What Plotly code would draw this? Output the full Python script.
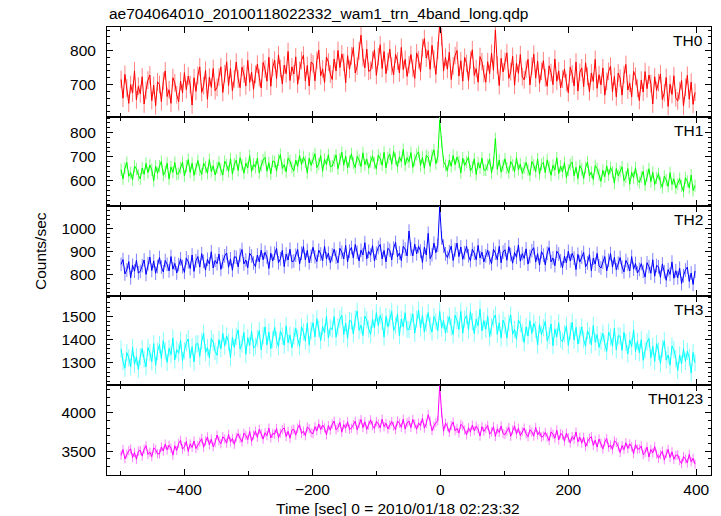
import plotly.graph_objects as go

# ---------------- data ----------------
TIME = list(range(-499, 399, 3))   # bin centres [sec], 300 bins

TH0 = [
    715, 660, 730, 690, 645, 700, 675, 740, 655, 695,
    673, 723, 643, 683, 713, 728, 653, 698, 638, 708,
    700, 650, 710, 740, 665, 685, 645, 720, 705, 670,
    650, 710, 675, 735, 685, 725, 700, 640, 720, 680,
    727, 752, 677, 697, 742, 657, 722, 692, 747, 682,
    692, 722, 752, 677, 732, 767, 697, 747, 682, 717,
    766, 716, 691, 751, 731, 696, 771, 706, 736, 686,
    730, 760, 720, 690, 765, 745, 710, 780, 695, 750,
    772, 717, 787, 747, 702, 757, 732, 797, 712, 752,
    731, 781, 701, 741, 771, 786, 711, 756, 696, 766,
    761, 711, 771, 801, 726, 746, 706, 781, 766, 731,
    715, 775, 740, 800, 750, 790, 765, 705, 785, 745,
    784, 809, 734, 754, 799, 845, 779, 749, 804, 739,
    742, 772, 802, 727, 782, 817, 747, 797, 732, 767,
    804, 754, 729, 789, 769, 734, 809, 744, 774, 724,
    758, 788, 748, 718, 793, 773, 738, 808, 835, 778,
    800, 745, 815, 775, 730, 800, 880, 840, 740, 780,
    745, 795, 715, 755, 785, 800, 725, 770, 710, 780,
    762, 712, 772, 802, 727, 747, 707, 782, 767, 732,
    707, 767, 732, 792, 742, 860, 757, 697, 777, 737,
    768, 793, 718, 738, 783, 698, 763, 733, 788, 723,
    714, 744, 774, 699, 754, 789, 719, 769, 704, 739,
    770, 720, 695, 755, 735, 700, 775, 710, 740, 690,
    716, 746, 706, 676, 751, 731, 696, 766, 681, 736,
    749, 694, 764, 724, 679, 734, 709, 774, 689, 729,
    699, 749, 669, 709, 739, 754, 679, 724, 664, 734,
    719, 669, 729, 759, 684, 704, 664, 739, 724, 689,
    653, 713, 678, 738, 688, 728, 703, 643, 723, 683,
    706, 731, 656, 676, 721, 636, 701, 671, 726, 661,
    652, 682, 712, 637, 692, 727, 657, 707, 642, 677,
]

TH1 = [
    646, 608, 653, 676, 619, 634, 604, 661, 649, 623,
    608, 653, 627, 672, 634, 665, 646, 600, 661, 631,
    661, 680, 623, 638, 673, 608, 657, 635, 676, 627,
    631, 654, 677, 620, 661, 688, 635, 673, 623, 650,
    684, 646, 627, 673, 658, 631, 688, 639, 662, 624,
    654, 677, 647, 624, 681, 666, 639, 692, 628, 669,
    685, 643, 696, 666, 632, 673, 654, 704, 639, 670,
    656, 694, 633, 663, 686, 697, 640, 675, 629, 682,
    679, 641, 686, 709, 652, 667, 637, 694, 682, 656,
    641, 686, 660, 705, 667, 698, 679, 633, 694, 664,
    693, 712, 655, 670, 705, 640, 689, 667, 708, 659,
    661, 684, 707, 650, 691, 718, 665, 703, 653, 680,
    712, 674, 655, 701, 686, 659, 716, 667, 690, 652,
    680, 703, 673, 650, 707, 692, 665, 718, 654, 695,
    711, 669, 722, 692, 658, 699, 680, 730, 665, 696,
    679, 717, 656, 686, 709, 720, 663, 698, 652, 705,
    698, 660, 705, 728, 671, 700, 850, 760, 680, 665,
    641, 686, 660, 705, 667, 698, 679, 633, 694, 664,
    679, 698, 641, 656, 691, 626, 675, 653, 694, 645,
    644, 667, 690, 633, 674, 775, 648, 686, 636, 663,
    691, 653, 634, 680, 665, 638, 695, 646, 669, 631,
    653, 676, 646, 623, 680, 665, 638, 691, 627, 668,
    676, 634, 687, 657, 623, 664, 645, 695, 630, 661,
    637, 675, 614, 644, 667, 678, 621, 656, 610, 663,
    648, 610, 655, 678, 621, 636, 606, 663, 651, 625,
    598, 643, 617, 662, 624, 655, 636, 590, 651, 621,
    639, 658, 601, 616, 651, 586, 635, 613, 654, 605,
    593, 616, 639, 582, 623, 650, 597, 635, 585, 612,
    630, 592, 573, 619, 604, 577, 634, 585, 608, 570,
    586, 609, 579, 556, 613, 598, 571, 624, 560, 580,
]

TH2 = [
    844, 865, 802, 819, 856, 785, 840, 814, 861, 806,
    813, 838, 863, 800, 847, 876, 817, 859, 805, 834,
    874, 832, 811, 861, 844, 815, 878, 823, 848, 806,
    843, 868, 834, 809, 872, 855, 826, 885, 813, 860,
    878, 832, 891, 857, 819, 866, 845, 899, 828, 861,
    847, 889, 822, 856, 881, 894, 831, 868, 818, 877,
    875, 833, 884, 909, 846, 863, 829, 892, 880, 850,
    834, 885, 855, 906, 864, 897, 876, 826, 893, 859,
    893, 914, 851, 868, 905, 834, 889, 863, 910, 855,
    859, 884, 909, 846, 893, 922, 863, 905, 851, 880,
    919, 877, 856, 906, 889, 860, 923, 868, 893, 851,
    885, 910, 876, 851, 914, 897, 868, 927, 855, 902,
    918, 872, 931, 897, 859, 906, 885, 939, 868, 901,
    884, 926, 859, 893, 918, 931, 868, 905, 855, 914,
    906, 864, 915, 940, 877, 894, 860, 923, 911, 881,
    990, 911, 881, 932, 890, 923, 902, 852, 919, 885,
    980, 869, 886, 937, 895, 928, 1095, 960, 924, 890,
    874, 899, 924, 861, 908, 937, 878, 920, 866, 895,
    923, 881, 860, 910, 893, 864, 927, 872, 897, 855,
    881, 906, 872, 847, 910, 893, 864, 923, 851, 898,
    908, 862, 921, 887, 849, 896, 875, 929, 858, 891,
    870, 912, 845, 879, 904, 917, 854, 891, 841, 900,
    884, 842, 893, 918, 855, 872, 838, 901, 889, 859,
    829, 880, 850, 901, 859, 892, 871, 821, 888, 854,
    875, 896, 833, 850, 887, 816, 871, 845, 892, 837,
    828, 853, 878, 815, 862, 891, 832, 874, 820, 849,
    874, 832, 811, 861, 844, 815, 878, 823, 848, 806,
    822, 847, 813, 788, 851, 834, 805, 864, 792, 839,
    833, 787, 846, 812, 774, 821, 800, 854, 783, 816,
    785, 827, 760, 794, 819, 832, 769, 806, 756, 815,
]

TH3 = [
    1360, 1305, 1277, 1344, 1322, 1283, 1366, 1294, 1327, 1272,
    1327, 1361, 1316, 1283, 1366, 1344, 1305, 1383, 1289, 1350,
    1379, 1318, 1396, 1352, 1302, 1363, 1335, 1407, 1313, 1357,
    1342, 1398, 1309, 1353, 1387, 1403, 1320, 1370, 1304, 1381,
    1383, 1328, 1394, 1427, 1344, 1366, 1322, 1405, 1389, 1350,
    1333, 1400, 1361, 1427, 1372, 1416, 1389, 1322, 1411, 1366,
    1414, 1442, 1359, 1381, 1431, 1337, 1409, 1375, 1436, 1364,
    1372, 1406, 1439, 1356, 1417, 1455, 1378, 1433, 1361, 1400,
    1453, 1398, 1370, 1437, 1415, 1376, 1459, 1387, 1420, 1365,
    1416, 1450, 1405, 1372, 1455, 1433, 1394, 1472, 1378, 1439,
    1473, 1412, 1490, 1446, 1396, 1457, 1429, 1501, 1407, 1451,
    1444, 1500, 1411, 1455, 1489, 1505, 1422, 1472, 1406, 1483,
    1479, 1424, 1490, 1523, 1440, 1462, 1418, 1501, 1485, 1446,
    1422, 1489, 1450, 1516, 1461, 1505, 1478, 1411, 1500, 1455,
    1494, 1522, 1439, 1461, 1511, 1417, 1489, 1455, 1516, 1444,
    1444, 1478, 1511, 1428, 1489, 1527, 1450, 1505, 1433, 1472,
    1516, 1461, 1433, 1500, 1478, 1439, 1522, 1450, 1483, 1428,
    1466, 1500, 1455, 1422, 1505, 1483, 1444, 1522, 1428, 1489,
    1504, 1443, 1521, 1477, 1427, 1488, 1460, 1532, 1438, 1482,
    1445, 1501, 1412, 1456, 1490, 1506, 1423, 1473, 1407, 1484,
    1462, 1407, 1473, 1506, 1423, 1445, 1401, 1484, 1468, 1429,
    1388, 1455, 1416, 1482, 1427, 1471, 1444, 1377, 1466, 1421,
    1451, 1479, 1396, 1418, 1468, 1374, 1446, 1412, 1473, 1401,
    1392, 1426, 1459, 1376, 1437, 1475, 1398, 1453, 1381, 1420,
    1455, 1400, 1372, 1439, 1417, 1378, 1461, 1389, 1422, 1367,
    1394, 1428, 1383, 1350, 1433, 1411, 1372, 1450, 1356, 1417,
    1415, 1354, 1432, 1388, 1338, 1399, 1371, 1443, 1349, 1393,
    1344, 1400, 1311, 1355, 1389, 1405, 1322, 1372, 1306, 1383,
    1351, 1296, 1362, 1395, 1312, 1334, 1290, 1373, 1357, 1318,
    1267, 1334, 1295, 1361, 1306, 1350, 1323, 1256, 1345, 1300,
]

TH0123 = [
    3446, 3522, 3401, 3461, 3507, 3529, 3416, 3484, 3394, 3499,
    3511, 3436, 3526, 3571, 3458, 3488, 3428, 3541, 3519, 3466,
    3464, 3555, 3502, 3592, 3517, 3577, 3540, 3449, 3570, 3509,
    3602, 3640, 3527, 3557, 3625, 3497, 3595, 3549, 3632, 3534,
    3573, 3619, 3664, 3551, 3634, 3686, 3581, 3656, 3558, 3611,
    3710, 3635, 3597, 3688, 3658, 3605, 3718, 3620, 3665, 3590,
    3681, 3727, 3666, 3621, 3734, 3704, 3651, 3757, 3629, 3712,
    3762, 3679, 3785, 3725, 3657, 3740, 3702, 3800, 3672, 3732,
    3720, 3796, 3675, 3735, 3781, 3803, 3690, 3758, 3668, 3773,
    3784, 3709, 3799, 3844, 3731, 3761, 3701, 3814, 3792, 3739,
    3727, 3818, 3765, 3855, 3780, 3840, 3803, 3712, 3833, 3772,
    3852, 3890, 3777, 3807, 3875, 3747, 3845, 3799, 3882, 3784,
    3799, 3845, 3890, 3777, 3860, 3912, 3807, 3882, 3784, 3837,
    3908, 3833, 3795, 3886, 3856, 3803, 3916, 3818, 3863, 3788,
    3840, 3886, 3825, 3780, 3893, 3863, 3810, 3916, 3788, 3871,
    3890, 3807, 3913, 3853, 3785, 3868, 3830, 3928, 3800, 3860,
    3975, 3888, 3767, 3827, 3873, 3895, 4350, 4000, 3760, 3865,
    3819, 3744, 3834, 3879, 3766, 3796, 3736, 3849, 3827, 3774,
    3712, 3803, 3750, 3840, 3765, 3825, 3788, 3697, 3818, 3757,
    3797, 3835, 3722, 3752, 3820, 3692, 3790, 3744, 3827, 3729,
    3716, 3762, 3807, 3694, 3777, 3829, 3724, 3799, 3701, 3754,
    3801, 3726, 3688, 3779, 3749, 3696, 3809, 3711, 3756, 3681,
    3698, 3744, 3683, 3638, 3751, 3721, 3668, 3774, 3646, 3729,
    3712, 3629, 3735, 3675, 3607, 3690, 3652, 3750, 3622, 3682,
    3605, 3681, 3560, 3620, 3666, 3688, 3575, 3643, 3553, 3658,
    3604, 3529, 3619, 3664, 3551, 3581, 3521, 3634, 3612, 3559,
    3482, 3573, 3520, 3610, 3535, 3595, 3558, 3467, 3588, 3527,
    3530, 3568, 3455, 3485, 3553, 3425, 3523, 3477, 3560, 3462,
    3409, 3455, 3500, 3387, 3470, 3522, 3417, 3492, 3394, 3447,
    3452, 3377, 3339, 3430, 3400, 3347, 3460, 3362, 3407, 3332,
]

# 1-sigma counting errors per band (counts/sec)
ERRORS = [26, 25, 30, 37, 60]

BAND_NAMES = ["TH0", "TH1", "TH2", "TH3", "TH0123"]
SERIES = [TH0, TH1, TH2, TH3, TH0123]

# labelled y ticks per panel
Y_TICKS = [[700, 800], [600, 700, 800], [800, 900, 1000],
           [1300, 1400, 1500], [3500, 4000]]
X_TICKS = [-400, -200, 0, 200, 400]

TITLE = "ae704064010_20100118022332_wam1_trn_4band_long.qdp"
XLABEL = "Time [sec] 0 = 2010/01/18 02:23:32"
YLABEL = "Counts/sec"

# ---------------- styles ----------------
LINE_COLORS = ["#ff0000", "#00ff00", "#0000ff", "#00ffff", "#ff00ff"]
ERR_COLORS = ["#ff8080", "#80ff80", "#8080ff", "#80ffff", "#ff80ff"]
Y_RANGES = [[606, 869], [495, 866], [706, 1099], [1203, 1589], [3190, 4356]]
Y_MINOR = [20, 20, 20, 20, 100]
X_RANGE = [-521, 423]
FONT = "Liberation Sans, Arial, Helvetica, sans-serif"
FS = 15.5

fig = go.Figure()
n = len(SERIES)
for i, (name, ys) in enumerate(zip(BAND_NAMES, SERIES)):
    sfx = "" if i == 0 else str(i + 1)
    fig.add_trace(go.Scatter(
        x=TIME, y=ys, mode="markers", xaxis="x" + sfx, yaxis="y" + sfx,
        marker=dict(size=1, color="rgba(0,0,0,0)"),
        error_y=dict(type="constant", value=ERRORS[i], color=ERR_COLORS[i],
                     thickness=1, width=0),
        showlegend=False, hoverinfo="skip"))
    fig.add_trace(go.Scatter(
        x=TIME, y=ys, mode="lines", xaxis="x" + sfx, yaxis="y" + sfx,
        line=dict(color=LINE_COLORS[i], width=1),
        showlegend=False, name=name))

layout = dict(
    width=721, height=516,
    margin=dict(l=107, r=10, t=27, b=41),
    paper_bgcolor="white", plot_bgcolor="white",
    font=dict(family=FONT, size=FS, color="black"),
    annotations=[],
)
for i in range(n):
    sfx = "" if i == 0 else str(i + 1)
    top = 1 - 0.2 * i
    bot = 1 - 0.2 * (i + 1)
    last = (i == n - 1)
    layout["xaxis" + sfx] = dict(
        range=X_RANGE, anchor="y" + sfx, domain=[0, 1],
        matches=None if i == 0 else "x",
        showline=True, linecolor="black", linewidth=1, mirror="ticks",
        ticks="inside", ticklen=6, tickcolor="black",
        tickmode="array", tickvals=X_TICKS,
        minor=dict(dtick=100, tick0=0, ticklen=4, ticks="inside",
                   tickcolor="black"),
        showgrid=False, zeroline=False, showticklabels=last,
        tickfont=dict(size=FS),
    )
    layout["yaxis" + sfx] = dict(
        range=Y_RANGES[i], anchor="x" + sfx, domain=[bot, top],
        showline=True, linecolor="black", linewidth=1, mirror="ticks",
        ticks="inside", ticklen=6, tickcolor="black",
        tickmode="array", tickvals=Y_TICKS[i],
        minor=dict(dtick=Y_MINOR[i], tick0=0, ticklen=3, ticks="inside",
                   tickcolor="black"),
        showgrid=False, zeroline=False, tickfont=dict(size=FS),
        ticklabelstandoff=7,
    )
    layout["annotations"].append(dict(
        text=BAND_NAMES[i], xref="paper", yref="paper", x=1, y=top,
        xanchor="right", yanchor="top", xshift=-6, yshift=-3,
        showarrow=False, font=dict(size=FS)))

layout["annotations"] += [
    dict(text=TITLE, xref="paper", yref="paper", x=0, y=1, xanchor="left",
         yanchor="bottom", yshift=3, showarrow=False, font=dict(size=FS)),
    dict(text=XLABEL, xref="paper", yref="paper", x=0.482, y=0,
         xanchor="center", yanchor="middle", yshift=-33, showarrow=False,
         font=dict(size=FS)),
    dict(text=YLABEL, xref="paper", yref="paper", x=0, y=0.5,
         xanchor="center", yanchor="middle", xshift=-67, textangle=-90,
         showarrow=False, font=dict(size=FS)),
]

fig.update_layout(**layout)
fig.write_html("out.html",
               config={"displayModeBar": False},
               post_script="document.body.style.margin='0px';"
                           "document.body.style.overflow='hidden';")
